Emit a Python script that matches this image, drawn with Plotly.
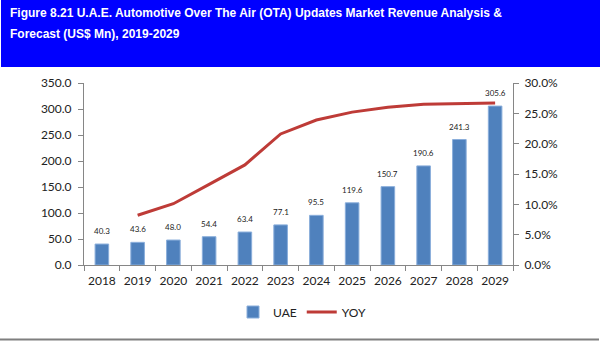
import plotly.graph_objects as go

years = ["2018", "2019", "2020", "2021", "2022", "2023", "2024", "2025", "2026", "2027", "2028", "2029"]
uae = [40.3, 43.6, 48.0, 54.4, 63.4, 77.1, 95.5, 119.6, 150.7, 190.6, 241.3, 305.6]
yoy = [None, 0.082, 0.101, 0.133, 0.165, 0.216, 0.239, 0.252, 0.260, 0.265, 0.266, 0.267]
title_lines = ["Figure 8.21 U.A.E. Automotive Over The Air (OTA) Updates Market Revenue Analysis &",
               "Forecast (US$ Mn), 2019-2029"]

W, H = 600, 341
L, R, T, B = 84, 513, 83, 265
pw, ph = R - L, B - T

def px_x(x):
    return (x - L) / pw

def px_y(y):
    return (B - y) / ph

tick_font = dict(family="Lato, Open Sans, sans-serif", size=12, color="#222222")

fig = go.Figure()
fig.add_trace(go.Bar(
    x=years, y=uae, name="UAE",
    marker=dict(color="#4F81BD", line=dict(color="#8AAEDB", width=1)),
    width=0.38,
))
fig.add_trace(go.Scatter(
    x=years, y=yoy, name="YOY", yaxis="y2", mode="lines",
    line=dict(color="#BE3B37", width=3), connectgaps=False,
))

annotations = []
for i, v in enumerate(uae):
    annotations.append(dict(
        x=i, y=v, xref="x", yref="y", text=f"{v:.1f}", showarrow=False,
        yanchor="bottom", yshift=6,
        font=dict(family="Lato, Open Sans, sans-serif", size=8, color="#222222"),
    ))
title_font = dict(family="Liberation Sans Narrow, Arial Narrow, Liberation Sans, Arial, sans-serif",
                  size=12, color="white", weight="bold")
annotations.append(dict(x=px_x(8), y=px_y(12.5), xref="paper", yref="paper", text="<b>" + title_lines[0] + "</b>",
                        showarrow=False, xanchor="left", yanchor="middle", font=title_font))
annotations.append(dict(x=px_x(8), y=px_y(33.5), xref="paper", yref="paper", text="<b>" + title_lines[1] + "</b>",
                        showarrow=False, xanchor="left", yanchor="middle", font=title_font))

shapes = [
    dict(type="rect", xref="paper", yref="paper", x0=px_x(1), x1=px_x(600), y0=px_y(67), y1=px_y(0),
         fillcolor="#0000FF", line=dict(width=0), layer="below"),
    dict(type="line", xref="paper", yref="paper", x0=px_x(0), x1=px_x(599), y0=px_y(339.5), y1=px_y(339.5),
         line=dict(color="#7F7F7F", width=2)),
]

axis_common = dict(showline=True, linecolor="#868686", linewidth=1, ticks="outside", ticklen=5,
                   tickcolor="#868686", showgrid=False, zeroline=False, tickfont=tick_font)

fig.update_layout(
    width=W, height=H,
    margin=dict(l=L, r=W - R, t=T, b=H - B, pad=0),
    paper_bgcolor="white", plot_bgcolor="white",
    showlegend=True,
    legend=dict(orientation="h", x=px_x(302), y=px_y(312), xanchor="center", yanchor="middle",
                font=dict(family="Lato, Open Sans, sans-serif", size=12, color="#222222"),
                bgcolor="rgba(0,0,0,0)", itemwidth=30, tracegroupgap=0),
    xaxis=dict(type="category", tickson="boundaries", tickangle=0, range=[-0.5, len(years) - 0.5],
               ticklabelstandoff=5, **axis_common),
    yaxis=dict(range=[0, 350], dtick=50, tickformat=".1f", ticklabelstandoff=4, **axis_common),
    yaxis2=dict(range=[0, 0.30], dtick=0.05, tickformat=".1%", overlaying="y", side="right",
                ticklabelstandoff=3, **axis_common),
    annotations=annotations,
    shapes=shapes,
    bargap=0.62,
)

fig.write_html("out.html")
